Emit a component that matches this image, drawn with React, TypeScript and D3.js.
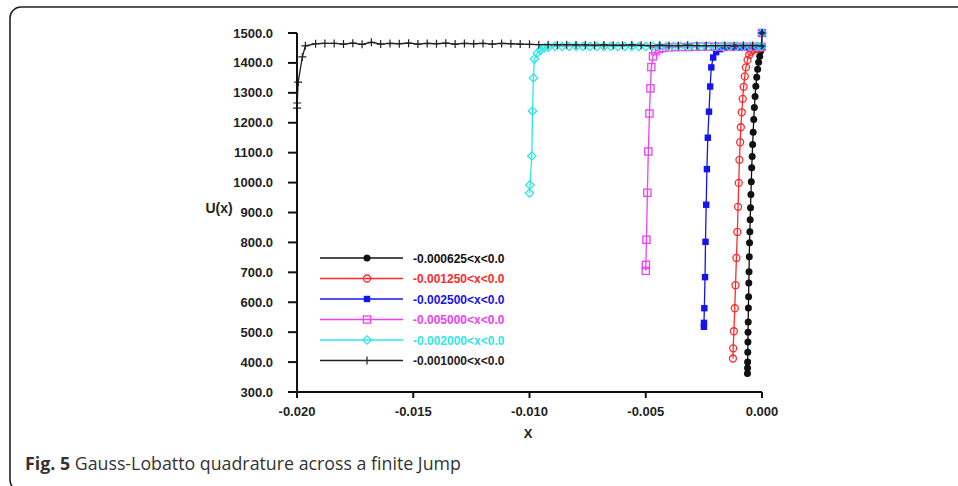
import React from "react";
import * as d3 from "d3";

// ---------- data ----------
const xTicks = [-0.02, -0.015, -0.01, -0.005, 0];
const xTickLabels = ["-0.020", "-0.015", "-0.010", "-0.005", "0.000"];
const yTicks = [300, 400, 500, 600, 700, 800, 900, 1000, 1100, 1200, 1300, 1400, 1500];
const yTickLabels = ["300.0", "400.0", "500.0", "600.0", "700.0", "800.0", "900.0", "1000.0", "1100.0", "1200.0", "1300.0", "1400.0", "1500.0"];

const legendLabels = [
  "-0.000625<x<0.0",
  "-0.001250<x<0.0",
  "-0.002500<x<0.0",
  "-0.005000<x<0.0",
  "-0.002000<x<0.0",
  "-0.001000<x<0.0",
];

const x1 = [-0.000625, -0.000622, -0.000618, -0.000612, -0.000606, -0.0006, -0.000593, -0.000585, -0.000577, -0.000568, -0.000558, -0.000547, -0.000535, -0.000522, -0.000508, -0.000493, -0.000477, -0.00046, -0.000442, -0.000423, -0.000403, -0.00038, -0.000355, -0.000328, -0.000298, -0.000265, -0.000228, -0.000188, -0.000145, -0.000098, -0.000055, -0.00002, 0];
const u1 = [362, 380, 400, 433, 467, 500, 534, 581, 618, 664, 702, 752, 799, 836, 876, 916, 960, 1003, 1050, 1087, 1127, 1168, 1211, 1251, 1288, 1322, 1352, 1379, 1402, 1422, 1439, 1450, 1500];

const x2 = [-0.00125, -0.00124, -0.00121, -0.00117, -0.00114, -0.0011, -0.00106, -0.00103, -0.001, -0.00097, -0.00094, -0.00091, -0.00087, -0.00083, -0.00079, -0.00074, -0.00069, -0.00062, -0.00055, -0.00047, -0.00039, -0.0003, -0.00021, -0.00012, -0.00002, 0];
const u2 = [412, 446, 503, 580, 657, 748, 835, 919, 999, 1076, 1135, 1185, 1235, 1280, 1320, 1355, 1385, 1410, 1427, 1437, 1443, 1446, 1448, 1449, 1450, 1500];

const x3 = [-0.0025, -0.002495, -0.00248, -0.00245, -0.00243, -0.0024, -0.00237, -0.00233, -0.00228, -0.00223, -0.00218, -0.0021, -0.00197, -0.0018, -0.00162, -0.00143, -0.00123, -0.00103, -0.00083, -0.00063, -0.00043, -0.00024, -0.00002, 0];
const u3 = [518, 531, 580, 684, 802, 926, 1045, 1150, 1237, 1321, 1385, 1418, 1436, 1446, 1450, 1451, 1452, 1452, 1452, 1452, 1452, 1452, 1452, 1500];

const x4 = [-0.005, -0.004995, -0.00497, -0.00493, -0.00489, -0.00484, -0.0048, -0.00476, -0.00469, -0.00459, -0.00442, -0.00424, -0.004, -0.00372, -0.00344, -0.00316, -0.00288, -0.0026, -0.00232, -0.00204, -0.00176, -0.00148, -0.0012, -0.00092, -0.00064, -0.00036, -0.00002, 0];
const u4 = [705, 725, 809, 966, 1104, 1231, 1315, 1386, 1422, 1439, 1446, 1450, 1452, 1453, 1453, 1453, 1454, 1454, 1454, 1454, 1454, 1454, 1454, 1454, 1454, 1454, 1454, 1500];

const x5 = [-0.01, -0.00998, -0.0099, -0.00987, -0.00983, -0.00979, -0.00966, -0.00953, -0.00936, -0.00919, -0.0089, -0.0086, -0.0083, -0.008, -0.0077, -0.0074, -0.0071, -0.0068, -0.0065, -0.0062, -0.0059, -0.0056, -0.0053, -0.005, -0.0047, -0.0044, -0.0041, -0.0038, -0.0035, -0.0032, -0.0029, -0.0026, -0.0023, -0.002, -0.0017, -0.0014, -0.0011, -0.0008, -0.0005, -0.0002, -0.00002, 0];
const u5 = [965, 992, 1089, 1239, 1350, 1413, 1433, 1443, 1450, 1453, 1455, 1455, 1455, 1455, 1455, 1455, 1455, 1455, 1455, 1455, 1455, 1455, 1455, 1455, 1455, 1455, 1455, 1455, 1455, 1455, 1455, 1455, 1455, 1455, 1455, 1455, 1455, 1455, 1455, 1455, 1455, 1500];

const x6 = [-0.02, -0.01999, -0.01995, -0.01977, -0.01964, -0.0192, -0.0188, -0.0184, -0.018, -0.0176, -0.0172, -0.0168, -0.0164, -0.016, -0.0156, -0.0152, -0.0148, -0.0144, -0.014, -0.0136, -0.0132, -0.0128, -0.0124, -0.012, -0.0116, -0.0112, -0.0108, -0.0104, -0.01, -0.0096, -0.0092, -0.0088, -0.0084, -0.008, -0.0076, -0.0072, -0.0068, -0.0064, -0.006, -0.0056, -0.0052, -0.0048, -0.0044, -0.004, -0.0036, -0.0032, -0.0028, -0.0024, -0.002, -0.0016, -0.0012, -0.0008, -0.0004, -0.00002, 0];
const u6 = [1249, 1266, 1336, 1420, 1457, 1464, 1465, 1465, 1463, 1466, 1462, 1469, 1463, 1465, 1464, 1466, 1463, 1465, 1464, 1466, 1463, 1465, 1464, 1465, 1463, 1465, 1464, 1463, 1462, 1461, 1461, 1460, 1461, 1460, 1460, 1459, 1460, 1459, 1459, 1460, 1459, 1458, 1459, 1458, 1458, 1459, 1458, 1458, 1458, 1458, 1457, 1458, 1458, 1457, 1500];

type Marker = "dot" | "circle" | "square" | "openSquare" | "diamond" | "plus";
const seriesColors = ["#111111", "#ff2a2a", "#1414f0", "#f040f0", "#30e6e6", "#222222"];
const seriesMarkers: Marker[] = ["dot", "circle", "square", "openSquare", "diamond", "plus"];
const seriesX = [x1, x2, x3, x4, x5, x6];
const seriesU = [u1, u2, u3, u4, u5, u6];

// ---------- layout ----------
const W = 958;
const H = 486;
const xScale = d3.scaleLinear().domain([-0.02, 0]).range([297, 762]);
const yScale = d3.scaleLinear().domain([300, 1500]).range([392, 33]);
const tickFont = "'Liberation Sans', Arial, sans-serif";

function MarkerShape({ type, x, y, color }: { type: Marker; x: number; y: number; color: string }) {
  switch (type) {
    case "dot":
      return <circle cx={x} cy={y} r={3.5} fill={color} />;
    case "circle":
      return <circle cx={x} cy={y} r={3.5} fill="none" stroke={color} strokeWidth={1.3} />;
    case "square":
      return <rect x={x - 3.2} y={y - 3.2} width={6.4} height={6.4} fill={color} />;
    case "openSquare":
      return <rect x={x - 3.6} y={y - 3.6} width={7.2} height={7.2} fill="none" stroke={color} strokeWidth={1.3} />;
    case "diamond":
      return (
        <path
          d={`M${x},${y - 4.2}L${x + 4.2},${y}L${x},${y + 4.2}L${x - 4.2},${y}Z`}
          fill="none"
          stroke={color}
          strokeWidth={1.3}
        />
      );
    case "plus":
      return (
        <path d={`M${x - 4},${y}H${x + 4}M${x},${y - 4}V${y + 4}`} stroke={color} strokeWidth={1.2} fill="none" />
      );
  }
  return null;
}

export default function App() {
  const line = d3
    .line<[number, number]>()
    .x((d) => xScale(d[0]))
    .y((d) => yScale(d[1]));

  const legendY0 = 258;
  const legendStep = 20.5;

  return (
    <svg
      width={W}
      height={H}
      style={{ position: "absolute", left: 0, top: 0, background: "#fff" }}
      xmlns="http://www.w3.org/2000/svg"
    >
      <rect x={0} y={0} width={W} height={H} fill="#fff" />
      {/* frame */}
      <rect x={10} y={7} width={1000} height={484} rx={11} ry={11} fill="none" stroke="#222" strokeWidth={1.6} />

      {/* series */}
      {seriesX.map((xs, si) => {
        const pts: [number, number][] = xs.map((xv, i) => [xv, seriesU[si][i]]);
        return (
          <g key={si}>
            <path d={line(pts) || ""} fill="none" stroke={seriesColors[si]} strokeWidth={1.3} />
            {pts.map((p, i) => (
              <MarkerShape key={i} type={seriesMarkers[si]} x={xScale(p[0])} y={yScale(p[1])} color={seriesColors[si]} />
            ))}
          </g>
        );
      })}

      {/* axes */}
      <g stroke="#111" strokeWidth={2} fill="none">
        <line x1={xScale(-0.02)} y1={yScale(300)} x2={xScale(0)} y2={yScale(300)} />
        <line x1={xScale(-0.02)} y1={yScale(300)} x2={xScale(-0.02)} y2={yScale(1500)} />
        {yTicks.map((t) => (
          <line key={t} x1={xScale(-0.02) - 9} y1={yScale(t)} x2={xScale(-0.02)} y2={yScale(t)} />
        ))}
        {xTicks.map((t) => (
          <line key={t} x1={xScale(t)} y1={yScale(300)} x2={xScale(t)} y2={yScale(300) + 6} />
        ))}
      </g>
      <g fontFamily={tickFont} fontWeight="bold" fontSize={13} fill="#222">
        {yTicks.map((t, i) => (
          <text key={t} x={273} y={yScale(t)} dy="0.35em" textAnchor="end">
            {yTickLabels[i]}
          </text>
        ))}
        {xTicks.map((t, i) => (
          <text key={t} x={xScale(t)} y={416} textAnchor="middle">
            {xTickLabels[i]}
          </text>
        ))}
      </g>
      <text x={528} y={438} textAnchor="middle" fontFamily={tickFont} fontWeight="bold" fontSize={13} fill="#222">
        X
      </text>
      <text x={219} y={208} dy="0.35em" textAnchor="middle" fontFamily={tickFont} fontWeight="bold" fontSize={14} fill="#222">
        U(x)
      </text>

      {/* legend */}
      {legendLabels.map((lab, i) => {
        const y = legendY0 + i * legendStep;
        return (
          <g key={lab + i}>
            <line x1={320} y1={y} x2={403} y2={y} stroke={seriesColors[i]} strokeWidth={1.3} />
            <MarkerShape type={seriesMarkers[i]} x={367} y={y} color={seriesColors[i]} />
            <text x={413} y={y + 4.5} fontFamily={tickFont} fontWeight="bold" fontSize={12} fill={seriesColors[i]}>
              {lab}
            </text>
          </g>
        );
      })}

      {/* caption */}
      <text x={25} y={470} fontFamily="'Open Sans', 'Noto Sans', sans-serif" fontSize={17.8} fill="#333">
        <tspan fontWeight="bold">Fig. 5</tspan>
        <tspan> Gauss-Lobatto quadrature across a finite Jump</tspan>
      </text>
    </svg>
  );
}
